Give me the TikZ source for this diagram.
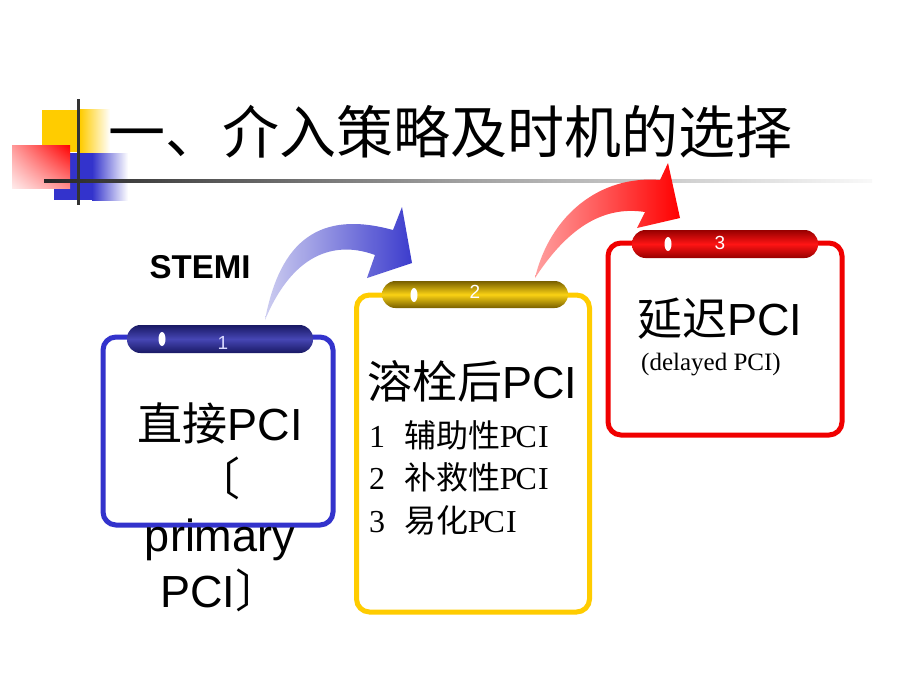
\documentclass[tikz,border=0pt]{standalone}
\usepackage{fontspec}
\setmainfont{Liberation Sans}
\newfontfamily\cjk{Noto Sans CJK SC}
\newfontfamily\serifL{Liberation Serif}
\usetikzlibrary{shapes.geometric,shadings}
\newcommand\hwPCI{\serifL\makebox[17.3pt]{P}\makebox[17.3pt]{C}\makebox[17.3pt]{I}}
\definecolor{bxblue}{RGB}{51,51,204}
\definecolor{bxgold}{RGB}{255,204,0}
\definecolor{bxred}{RGB}{240,0,0}
\definecolor{tabBlueD}{RGB}{25,25,100}
\definecolor{tabBlueL}{RGB}{70,70,180}
\definecolor{tabGoldD}{RGB}{120,95,0}
\definecolor{tabGoldL}{RGB}{250,210,20}
\definecolor{tabRedD}{RGB}{150,0,0}
\definecolor{tabRedL}{RGB}{255,20,20}
\definecolor{decoYellow}{RGB}{255,204,0}
\definecolor{decoBlue}{RGB}{51,51,204}
\tikzset{
  box/.style={draw, line width=5pt, rounded corners=13pt, fill=white, inner sep=0pt},
  tabnum/.style={text=white, font=\fontsize{19}{19}\selectfont, inner sep=0pt},
  hole/.style={fill=white, draw=none, ellipse, minimum width=7pt, minimum height=14pt, inner sep=0pt},
  big/.style={font=\fontsize{45}{50}\selectfont, inner sep=0pt},
  sub/.style={font=\fontsize{32}{36}\selectfont, inner sep=0pt, anchor=base west},
}
\begin{document}
\begin{tikzpicture}[x=1pt,y=-1pt]
\useasboundingbox (0,0) rectangle (920,690);
\fill[white] (0,0) rectangle (920,690);
% decoration
\fill[decoYellow] (42,110) rectangle (80,152);
\shade[left color=decoYellow, right color=white] (80,110) rectangle (110,152);
\fill[decoBlue] (54,153) rectangle (92,200);
\shade[left color=decoBlue, right color=white] (92,153) rectangle (128,200);
\shade[upper left=red!40, upper right=red, lower left=red!8, lower right=red!45] (12,145) rectangle (70,188);
\fill[black!80] (76.5,99) rectangle (79.5,205);
\shade[left color=black!85, right color=white!95!gray, middle color=gray!75] (44,179.5) rectangle (872,182.5);
% title
\node[anchor=west, inner sep=0pt, font=\cjk\fontsize{57}{60}\selectfont] (title) at (108,132) {一、介入策略及时机的选择};
% arrows
\shade[left color={rgb,255:red,205;green,205;blue,240}, right color={rgb,255:red,60;green,60;blue,205}]
  (265,320) .. controls (280,240) and (320,210) .. (393,230)
  -- (402,207) -- (412,263) -- (367,278) -- (375,255)
  .. controls (340,242) and (295,248) .. (265,320) -- cycle;
\shade[left color={rgb,255:red,255;green,160;blue,160}, right color={rgb,255:red,255;green,0;blue,0}]
  (535,278) .. controls (550,215) and (600,175) .. (660,180)
  -- (668,163) -- (680,218) -- (637,228) -- (645,212)
  .. controls (600,205) and (565,232) .. (535,278) -- cycle;
% STEMI
\node[anchor=base, inner sep=0pt, font=\bfseries\fontsize{33}{36}\selectfont] (stemi) at (200,278) {STEMI};
% box 1
\node[box, draw=bxblue, minimum width=230pt, minimum height=188pt] (b1) at (218,431) {};
\shade[top color=tabBlueD, bottom color=tabBlueD, middle color=tabBlueL, rounded corners=13.5pt] (127,325) rectangle (313,353);
\node[hole] (h1) at (162,339) {};
\node[tabnum, text=blue!15] (n1) at (223,343) {1};
\node[big, anchor=base] (t1a) at (220,440) {{\cjk 直接}PCI};
\node[big, anchor=base, font=\cjk\fontsize{45}{50}\selectfont] (t1b) at (218,495) {〔};
\node[big, anchor=base] (t1c) at (220,551) {primary};
\node[big, anchor=base west] (t1d) at (160,607) {PCI{\cjk 〕}};
% box 2
\node[box, draw=bxgold, minimum width=233pt, minimum height=317pt] (b2) at (473,453.5) {};
\shade[top color=tabGoldD, bottom color=tabGoldD, middle color=tabGoldL, rounded corners=13.5pt] (382,281) rectangle (568,308);
\node[hole] (h2) at (414,295) {};
\node[tabnum] (n2) at (475,292) {2};
\node[big, anchor=base west] (t2a) at (367,398) {{\cjk 溶栓后}PCI};
\node[sub] (l1n) at (369,447) {\serifL 1};
\node[sub] (l1) at (404,447) {{\cjk 辅助性}\hwPCI};
\node[sub] (l2n) at (369,489) {\serifL 2};
\node[sub] (l2) at (404,489) {{\cjk 补救性}\hwPCI};
\node[sub] (l3n) at (369,532) {\serifL 3};
\node[sub] (l3) at (404,532) {{\cjk 易化}\hwPCI};
% box 3
\node[box, draw=bxred, minimum width=234pt, minimum height=192pt] (b3) at (725,339) {};
\shade[top color=tabRedD, bottom color=tabRedD, middle color=tabRedL, rounded corners=13.5pt] (632,230) rectangle (818,258);
\node[hole] (h3) at (668,244) {};
\node[tabnum] (n3) at (720,243) {3};
\node[big, anchor=base west] (t3a) at (637,335) {{\cjk 延迟}PCI};
\node[anchor=base west, inner sep=0pt, font=\serifL\fontsize{25}{28}\selectfont] (t3b) at (641,370) {(delayed PCI)};
\end{tikzpicture}
\end{document}
